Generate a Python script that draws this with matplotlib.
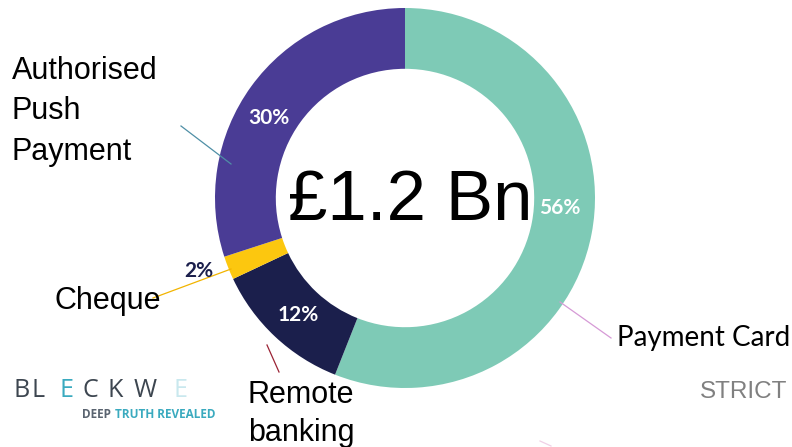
import matplotlib
matplotlib.use("Agg")
import matplotlib.pyplot as plt

# fraud losses by type (share of £1.2 Bn)
categories = ["Payment Card", "Remote banking", "Cheque", "Authorised Push Payment"]
shares = [56, 12, 2, 30]
pct_labels = ["56%", "12%", "2%", "30%"]
colors = ["#7ecab6", "#1b1f4c", "#fcc70f", "#4a3c95"]
total_label = "£1.2 Bn"

W, H = 792, 447
fig = plt.figure(figsize=(W / 100, H / 100), dpi=100)
fig.patch.set_facecolor("white")

# donut: centre ~ (405, 198) px, outer radius ~190 px
cx, cy, r = 405, 198, 190
ax = fig.add_axes([(cx - r) / W, (H - cy - r) / H, 2 * r / W, 2 * r / H])
ax.pie(shares, colors=colors, startangle=90, counterclock=False,
       radius=1, wedgeprops=dict(width=0.32, edgecolor="none"))
ax.set_xlim(-1, 1)
ax.set_ylim(-1, 1)
ax.set_aspect("equal")
ax.axis("off")

# overlay in pixel coordinates for labels and leader lines
ov = fig.add_axes([0, 0, 1, 1], zorder=5)
ov.set_xlim(0, W)
ov.set_ylim(H, 0)
ov.axis("off")

arial = "Liberation Sans"
calibri = "Lato"

ov.text(410, 220, total_label, fontsize=51, family=arial,
        ha="center", va="baseline", color="black")

# percentages on the ring
pct_pos = [(560, 208, "white"), (298, 315, "white"),
           (199, 271, "#1b1f4c"), (269, 118, "white")]
for lab, (x, y, c) in zip(pct_labels, pct_pos):
    ov.text(x, y, lab, fontsize=15, family=calibri, weight="bold",
            color=c, ha="center", va="center")

# category labels with leader lines
ov.text(12, 56, "Authorised\nPush\nPayment", fontsize=22, family=arial,
        ha="left", va="top", linespacing=1.45)
ov.plot([181, 231], [126, 164], color="#4f8fa6", lw=0.9)

ov.text(55, 309, "Cheque", fontsize=22, family=arial, ha="left", va="baseline")
ov.plot([153, 231], [298, 269], color="#f2b400", lw=0.9)

ov.text(248, 380, "Remote\nbanking", fontsize=22, family=arial,
        ha="left", va="top", linespacing=1.36)
ov.plot([267, 279], [345, 372], color="#9b2335", lw=0.9)

ov.text(617, 346, "Payment Card", fontsize=20, family=calibri,
        ha="left", va="baseline")
ov.plot([560, 611], [302, 338], color="#d69ad6", lw=0.9)
ov.plot([540, 551], [441, 446], color="#f0d0e6", lw=0.9)

ov.text(700, 398, "STRICT", fontsize=17.5, family=arial, color="#808080",
        ha="left", va="baseline")

# logo
logo = [("B", 22, "#3d4650"), ("L", 38, "#3d4650"), ("E", 66, "#3aaabf"),
        ("C", 90, "#3d4650"), ("K", 115, "#3d4650"), ("W", 145, "#3d4650"),
        ("E", 180, "#c9e8ee")]
for ch, x, c in logo:
    ov.text(x, 397, ch, fontsize=18, family="Open Sans", color=c,
            ha="center", va="baseline")
ov.text(82, 418, "DEEP", fontsize=8.5, family="Open Sans", weight="bold",
        color="#5a6470", ha="left", va="baseline")
ov.text(115, 418, "TRUTH REVEALED", fontsize=8.5, family="Open Sans",
        weight="bold", color="#3aaabf", ha="left", va="baseline")

fig.savefig("out.png", dpi=100, facecolor="white")
